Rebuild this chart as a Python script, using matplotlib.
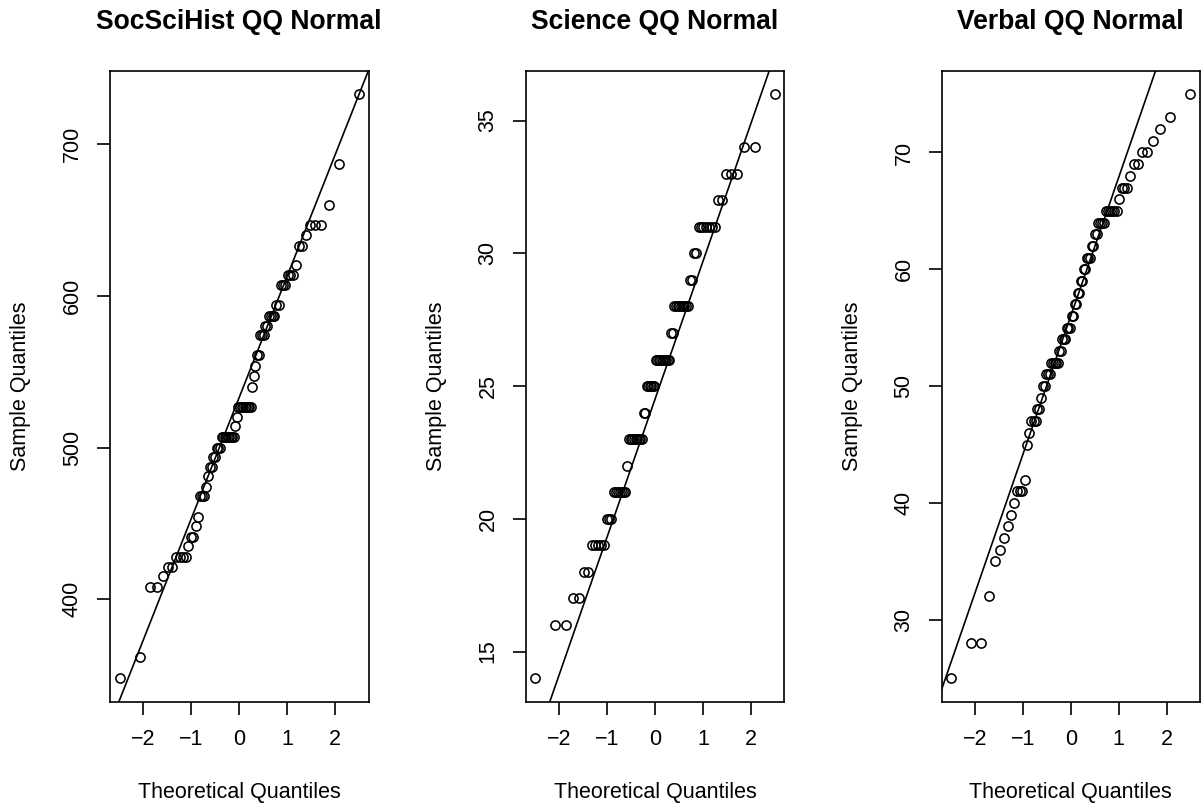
"""Normal QQ plots for three test-score variables, drawn in base-R style."""

import math

import matplotlib
matplotlib.use("Agg")
import matplotlib.pyplot as plt
import matplotlib.ticker as mticker
import numpy as np

# ── Data: sorted sample values as (level, count) pairs ───────────────────────

SOC_LEVELS = [348, 362, 408, 415, 421, 428, 435, 441, 448, 454, 468, 474, 481,
              487, 494, 500, 507, 514, 520, 527, 540, 547, 554, 561, 574, 580,
              587, 594, 607, 614, 620, 633, 640, 647, 660, 687, 733]
SOC_COUNTS = [1, 1, 2, 1, 2, 4, 1, 2, 1, 1, 3, 1, 1,
              2, 2, 3, 9, 1, 1, 9, 1, 1, 1, 2, 3, 2,
              4, 2, 3, 3, 1, 2, 1, 3, 1, 1, 1]

SCI_LEVELS = [14, 16, 17, 18, 19, 20, 21, 22, 23, 24, 25, 26, 27, 28, 29, 30,
              31, 32, 33, 34, 36]
SCI_COUNTS = [1, 2, 2, 2, 5, 3, 7, 1, 9, 2, 6, 10, 2, 9, 2, 2,
              7, 2, 3, 2, 1]

VERB_LEVELS = [25, 28, 32, 35, 36, 37, 38, 39, 40, 41, 42, 45, 46, 47, 48, 49,
               50, 51, 52, 53, 54, 55, 56, 57, 58, 59, 60, 61, 62, 63, 64, 65,
               66, 67, 68, 69, 70, 71, 72, 73, 75]
VERB_COUNTS = [1, 2, 1, 1, 1, 1, 1, 1, 1, 3, 1, 1, 1, 3, 2, 1,
               2, 3, 5, 2, 3, 3, 2, 2, 2, 2, 2, 3, 2, 2, 4, 6,
               1, 3, 1, 2, 2, 1, 1, 1, 1]

TITLES = ["SocSciHist QQ Normal", "Science QQ Normal", "Verbal QQ Normal"]
Y_STEPS = [100, 5, 10]

# ── Style ─────────────────────────────────────────────────────────────────────

RC = {
    "font.family": ["Liberation Sans", "DejaVu Sans"],
    "font.size": 15.5,
    "axes.linewidth": 1.2,
    "xtick.major.size": 9.5,
    "ytick.major.size": 9.5,
    "xtick.major.width": 1.2,
    "ytick.major.width": 1.2,
    "xtick.major.pad": 10,
    "ytick.major.pad": 10,
}

FIG_W, FIG_H = 1201, 805
PANEL_LEFT = [110, 525.7, 941.5]
PANEL_W = 258.5
PANEL_TOP, PANEL_BOTTOM = 70.7, 701.5


def qnorm(p):
    """Standard normal quantile by bisection on the CDF."""
    lo, hi = -10.0, 10.0
    for _ in range(80):
        mid = 0.5 * (lo + hi)
        if 0.5 * (1 + math.erf(mid / math.sqrt(2))) < p:
            lo = mid
        else:
            hi = mid
    return 0.5 * (lo + hi)


def ppoints(n):
    a = 3 / 8 if n <= 10 else 0.5
    return (np.arange(1, n + 1) - a) / (n + 1 - 2 * a)


def qq_panel(ax, sample, title, ystep):
    y = np.sort(np.asarray(sample, dtype=float))
    x = np.array([qnorm(p) for p in ppoints(len(y))])
    ax.plot(x, y, "o", mfc="none", mec="black", ms=6.6, mew=1.15)

    # qqline through first and third quartiles
    yq = np.percentile(y, [25, 75])
    xq = np.array([qnorm(0.25), qnorm(0.75)])
    slope = (yq[1] - yq[0]) / (xq[1] - xq[0])
    ax.axline((xq[0], yq[0]), slope=slope, color="black", lw=1.2)

    ax.margins(0.04)
    ax.xaxis.set_major_locator(mticker.MultipleLocator(1))
    ax.yaxis.set_major_locator(mticker.MultipleLocator(ystep))
    ax.tick_params(axis="y", labelrotation=90)
    for lbl in ax.get_yticklabels():
        lbl.set_va("center")
    ax.set_title(title, fontsize=19.1, fontweight="bold", pad=30)
    ax.set_xlabel("Theoretical Quantiles", labelpad=23)
    ax.set_ylabel("Sample Quantiles", labelpad=22)


with plt.rc_context(RC):
    fig = plt.figure(figsize=(FIG_W / 100, FIG_H / 100), dpi=100)
    samples = [
        np.repeat(SOC_LEVELS, SOC_COUNTS),
        np.repeat(SCI_LEVELS, SCI_COUNTS),
        np.repeat(VERB_LEVELS, VERB_COUNTS),
    ]
    for left, sample, title, step in zip(PANEL_LEFT, samples, TITLES, Y_STEPS):
        ax = fig.add_axes([left / FIG_W, 1 - PANEL_BOTTOM / FIG_H,
                           PANEL_W / FIG_W, (PANEL_BOTTOM - PANEL_TOP) / FIG_H])
        qq_panel(ax, sample, title, step)
    fig.savefig("out.png", dpi=100)
    plt.close(fig)
